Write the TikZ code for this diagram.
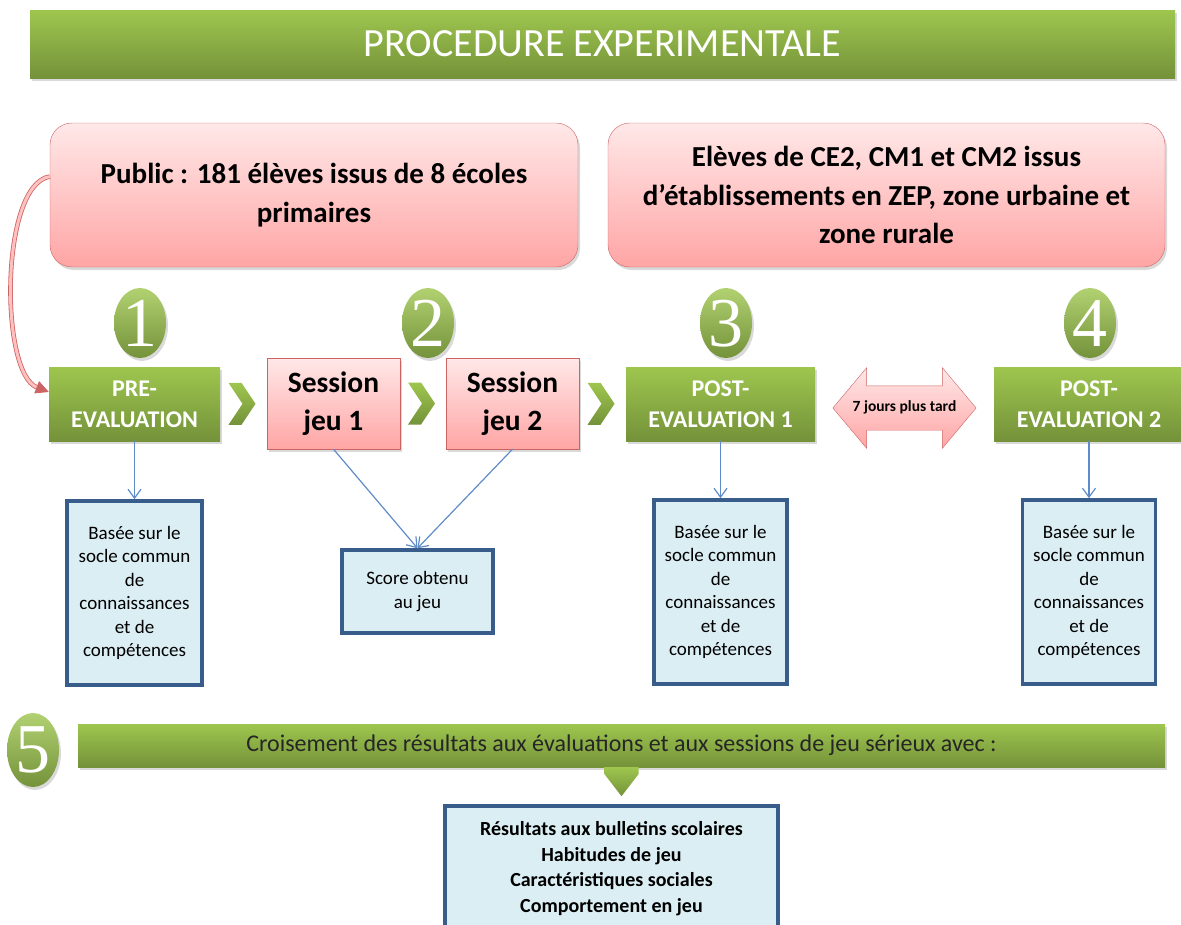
\documentclass[tikz,border=0pt]{standalone}
\usepackage{fontspec}
\setmainfont{Carlito}
\newfontfamily\chiffre{Liberation Serif}
\usetikzlibrary{positioning,calc,shapes.geometric,shapes.arrows,arrows.meta,shadows}

\definecolor{vertclair}{RGB}{158,198,78}
\definecolor{vertfonce}{RGB}{116,146,58}
\definecolor{roseclair}{RGB}{255,232,232}
\definecolor{rosefonce}{RGB}{255,165,165}
\definecolor{rosebord}{RGB}{205,100,100}
\definecolor{bleufond}{RGB}{219,238,244}
\definecolor{bleubord}{RGB}{56,93,138}
\definecolor{bleufleche}{RGB}{95,140,200}

\newcommand\grandchiffre[1]{\makebox[0pt]{\smash{\raisebox{-.5\height}{#1}}}}
\newcommand\chevronvert[1]{\shade[top color=vertclair, bottom color=vertfonce] (#1) ++(-15,-21) -- ++(13,0) -- ++(14,21) -- ++(-14,21) -- ++(-13,0) -- ++(14,-21) -- cycle;}

\tikzset{
  ombre/.style={drop shadow={shadow xshift=2pt, shadow yshift=-3pt, opacity=0.3}},
  bandeau/.style={top color=vertclair, bottom color=vertfonce, ombre, text=white},
  etape/.style={bandeau, font=\bfseries\fontsize{24}{31}\selectfont, align=center, minimum height=74},
  seance/.style={top color=roseclair, bottom color=rosefonce, draw=rosebord, ombre, font=\bfseries\fontsize{29.5}{38}\selectfont, align=center, minimum width=133, minimum height=91},
  public/.style={top color=roseclair, bottom color=rosefonce, draw=rosebord, ombre, rounded corners=22, minimum height=144, font=\bfseries\fontsize{29}{38.5}\selectfont, align=center},
  detail/.style={fill=bleufond, draw=bleubord, line width=3.5, font=\fontsize{19}{23.5}\selectfont, align=center},
  pastille/.style={ellipse, inner sep=0, minimum width=52, minimum height=70, top color=vertclair!80!white, bottom color=vertfonce, ombre, text=white, font=\chiffre\fontsize{70}{70}\selectfont},
  delai/.style={double arrow, double arrow head extend=18pt, double arrow tip angle=100, minimum height=143, text height=10, text depth=3, inner ysep=15.5, inner xsep=1, top color=roseclair, bottom color=rosefonce, draw=rosebord, font=\bfseries\fontsize{15.5}{15.5}\selectfont},
  lien/.style={draw=bleufleche, line width=1.2, -{Straight Barb[length=9pt,width=13pt]}},
  courbe/.style={draw=rosebord, line width=0.8, double=rosefonce!70!white, double distance=3, -{Triangle[length=13pt,width=13pt]}}
}

\begin{document}
\begin{tikzpicture}[x=1pt, y=-1pt]
\useasboundingbox (0,0) rectangle (1181,924);
\clip (0,0) rectangle (1181,924);

\node[bandeau, minimum width=1145, minimum height=68, font=\fontsize{40}{40}\selectfont] (titre) at (602.5,44) {PROCEDURE EXPERIMENTALE};

\node[public, minimum width=528] (pub) at (314,195) {Public : 181 élèves issus de 8 écoles\\primaires};
\node[public, minimum width=557] (eleves) at (886.5,195) {Elèves de CE2, CM1 et CM2 issus\\d’établissements en ZEP, zone urbaine et\\zone rurale};

\node[pastille] (n1) at (140,323) {\grandchiffre{1}};
\node[pastille] (n2) at (428,323) {\grandchiffre{2}};
\node[pastille] (n3) at (726,323) {\grandchiffre{3}};
\node[pastille] (n4) at (1090,323) {\grandchiffre{4}};
\node[pastille, minimum height=74] (n5) at (33,750) {\grandchiffre{5}};

\node[etape, minimum width=171] (pre) at (134.5,404) {PRE-\\EVALUATION};
\node[seance] (sj1) at (333.5,403.5) {Session\\jeu 1};
\node[seance] (sj2) at (512.5,403.5) {Session\\jeu 2};
\node[etape, minimum width=189] (post1) at (720.5,404) {POST-\\EVALUATION 1};
\node[etape, minimum width=190] (post2) at (1089,404) {POST-\\EVALUATION 2};
\node[delai] (delai) at (904.5,408) {7 jours plus tard};

\chevronvert{$(pre.east)!.5!(sj1.west)$}
\chevronvert{$(sj1.east)!.5!(sj2.west)$}
\chevronvert{$(sj2.east)!.5!(post1.west)$}

\node[detail, minimum width=135, minimum height=184, below=58pt of pre] (b1) {Basée sur le\\socle commun\\de\\connaissances\\et de\\compétences};
\node[detail, minimum width=151, minimum height=83] (score) at (417.5,591.5) {Score obtenu\\au jeu};
\node[detail, minimum width=133, minimum height=184, below=57pt of post1] (b3) {Basée sur le\\socle commun\\de\\connaissances\\et de\\compétences};
\node[detail, minimum width=133, minimum height=184, below=57pt of post2] (b4) {Basée sur le\\socle commun\\de\\connaissances\\et de\\compétences};

\draw[lien] (pre) -- (b1);
\draw[lien] (sj1.south) -- (score.north);
\draw[lien] (sj2.south) -- (score.north);
\draw[lien] (post1) -- (b3);
\draw[lien] (post2) -- (b4);
\draw[courbe] (pub.176) .. controls +(-50,8) and +(-49,-19) .. (pre.172);

\node[bandeau, minimum width=1087, minimum height=43, text=black!85, font=\fontsize{24}{24}\selectfont] (croise) at (621.5,745.5) {Croisement des résultats aux évaluations et aux sessions de jeu sérieux avec :};
\node[detail, font=\bfseries\fontsize{20}{25.5}\selectfont, minimum width=333, minimum height=126, anchor=north] (liste) at (611.5,804) {Résultats aux bulletins scolaires\\Habitudes de jeu\\Caractéristiques sociales\\Comportement en jeu};
\shade[top color=vertclair, bottom color=vertfonce] ([xshift=-17pt]croise.south) -- ++(34,0) -- ++(0,7) -- ++(-17,22) -- ++(-17,-22) -- cycle;
\end{tikzpicture}
\end{document}
